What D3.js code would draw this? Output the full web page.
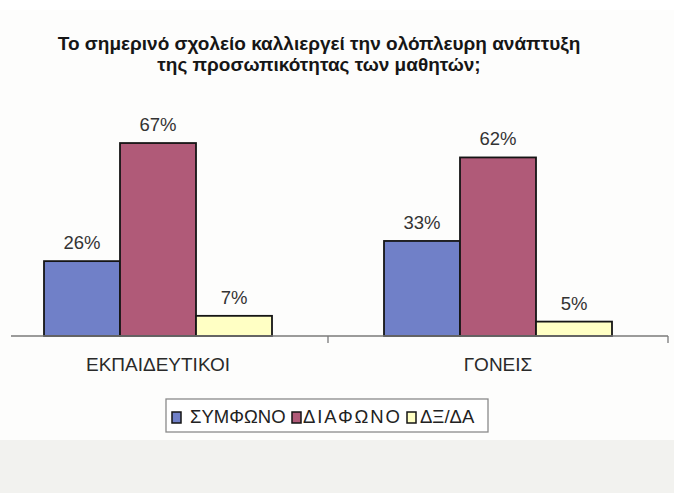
<!DOCTYPE html>
<html><head><meta charset="utf-8">
<script src="https://cdn.jsdelivr.net/npm/d3@7"></script>
<style>
html,body{margin:0;padding:0;background:#fdfdfc;}
svg{display:block;}
text{font-family:"Liberation Sans",Arial,sans-serif;}
</style></head>
<body>
<svg id="c" width="674" height="493"></svg>
<script>
const categories = ["ΕΚΠΑΙΔΕΥΤΙΚΟΙ", "ΓΟΝΕΙΣ"];
const seriesNames = ["ΣΥΜΦΩΝΟ", "ΔΙΑΦΩΝΟ", "ΔΞ/ΔΑ"];
const symfono = [26, 33];
const diafono = [67, 62];
const dxda = [7, 5];
const seriesColors = ["#7080c8", "#b05a78", "#ffffc4"];
const titleLines = ["Το σημερινό σχολείο καλλιεργεί την ολόπλευρη ανάπτυξη", "της προσωπικότητας των μαθητών;"];

const series = [symfono, diafono, dxda];
const svg = d3.select("#c");

// background bands
svg.append("rect").attr("x",0).attr("y",0).attr("width",674).attr("height",10).attr("fill","#ffffff");
svg.append("rect").attr("x",0).attr("y",440).attr("width",674).attr("height",53).attr("fill","#f2f2ef");

// title
svg.append("text").attr("x",319).attr("y",50).attr("text-anchor","middle")
  .attr("font-size",19).attr("font-weight","bold").attr("fill","#161616")
  .selectAll("tspan").data(titleLines).join("tspan")
  .attr("x",319).attr("dy",(d,i)=>i===0?0:21).text(d=>d);

const baseY = 336;
const y = d3.scaleLinear().domain([0, 100]).range([baseY, baseY - 288]);
const x0 = d3.scaleBand().domain(categories).range([-12, 668]);
const x1 = d3.scaleBand().domain(seriesNames).range([0, 228]);

const g = svg.append("g");
categories.forEach((cat, ci) => {
  const cx = x0(cat) + x0.bandwidth()/2;
  const gx = cx - 114;
  seriesNames.forEach((s, si) => {
    const v = series[si][ci];
    const bx = gx + x1(s);
    g.append("rect").attr("x", bx).attr("y", y(v)).attr("width", x1.bandwidth()).attr("height", baseY - y(v))
      .attr("fill", seriesColors[si]).attr("stroke", "#151515").attr("stroke-width", 1.8);
    g.append("text").attr("x", bx + x1.bandwidth()/2).attr("y", y(v) - 12).attr("text-anchor","middle")
      .attr("font-size",18.5).attr("fill","#333").text(v + "%");
  });
  svg.append("text").attr("x", cx).attr("y", 371).attr("text-anchor","middle")
    .attr("font-size",19).attr("fill","#2a2a2a").text(cat);
});

// axis
const ax = svg.append("g").attr("stroke","#7a7a7a").attr("stroke-width",1.3);
ax.append("line").attr("x1",11).attr("x2",668).attr("y1",baseY).attr("y2",baseY);
[x0.range()[0] + x0.step(), x0.range()[1]].forEach(t => {
  ax.append("line").attr("x1",t).attr("x2",t).attr("y1",baseY).attr("y2",baseY+7);
});

// legend
const lg = svg.append("g");
lg.append("rect").attr("x",166).attr("y",399).attr("width",322).attr("height",33)
  .attr("fill","#ffffff").attr("stroke","#8a8a8a").attr("stroke-width",1.3);
const legSw = [172, 292, 407];
const legTx = [190, 303, 420];
seriesNames.forEach((s, i) => {
  lg.append("rect").attr("x", legSw[i]).attr("y", 412).attr("width", 9).attr("height", 11)
    .attr("fill", seriesColors[i]).attr("stroke","#151515").attr("stroke-width",1.5);
  const t = lg.append("text").attr("x", legTx[i]).attr("y", 423).attr("font-size",18.5).attr("fill","#222").text(s);
  if (i === 1) t.attr("textLength", 97).attr("lengthAdjust","spacing");
});
</script>
</body></html>
